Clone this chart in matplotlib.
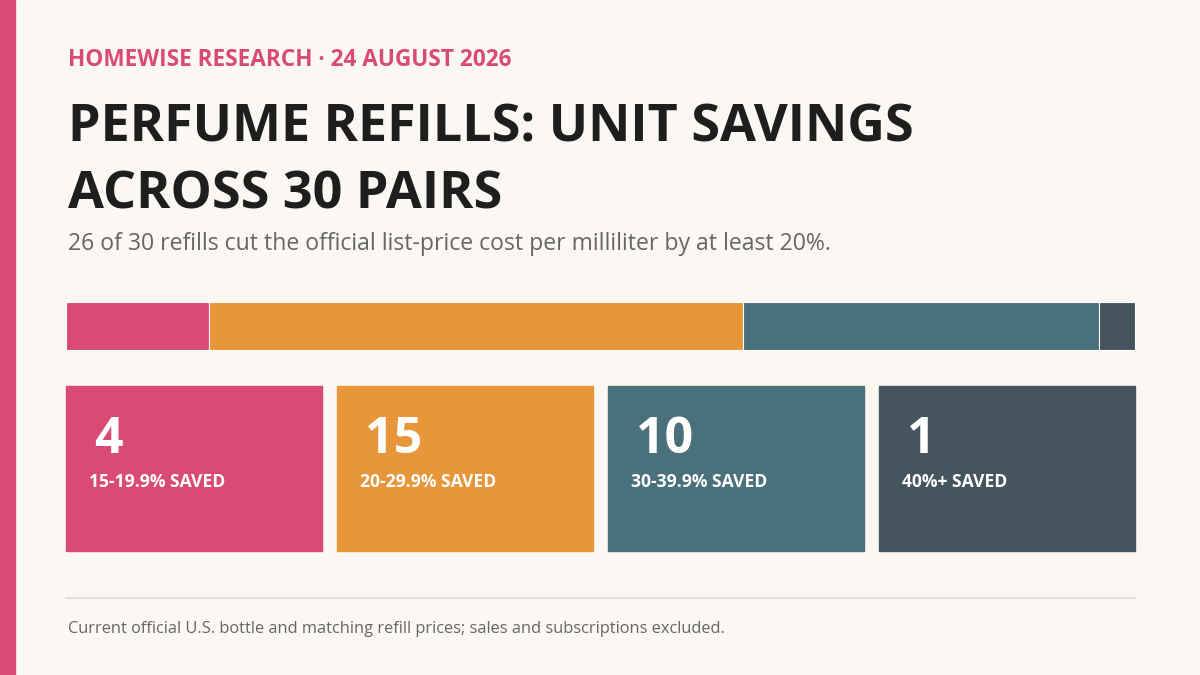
import matplotlib
matplotlib.use("Agg")
from matplotlib import pyplot as plt
from matplotlib.patches import Rectangle

# data
counts = [4, 15, 10, 1]
labels = ['15-19.9% SAVED', '20-29.9% SAVED', '30-39.9% SAVED', '40%+ SAVED']
colors = ['#D94A74', '#E8963A', '#4A707B', '#44555E']
total = sum(counts)

plt.rcParams['font.family'] = ['Open Sans', 'DejaVu Sans']

fig = plt.figure(figsize=(12, 6.75), dpi=100)
fig.patch.set_facecolor('#FBF8F3')
ax = fig.add_axes([0, 0, 1, 1])
ax.set_xlim(0, 1200)
ax.set_ylim(675, 0)
ax.axis('off')

# left accent stripe
ax.add_patch(Rectangle((0, 0), 15, 675, color='#D94A74'))

ax.text(68, 60, 'HOMEWISE RESEARCH · 24 AUGUST 2026', color='#D94A74',
        fontsize=16.3, fontweight='bold', va='center')
ax.text(68, 128, 'PERFUME REFILLS: UNIT SAVINGS', color='#1E1E1E',
        fontsize=37.5, fontweight='bold', va='center')
ax.text(68, 195, 'ACROSS 30 PAIRS', color='#1E1E1E',
        fontsize=37.5, fontweight='bold', va='center')
ax.text(68, 244, '26 of 30 refills cut the official list-price cost per milliliter by at least 20%.',
        color='#666666', fontsize=16.6, va='center')

# stacked bar
x0, x1 = 66, 1135
w = x1 - x0
left = x0
for c, col in zip(counts, colors):
    seg = w * c / total
    ax.add_patch(Rectangle((left, 302), seg, 48, facecolor=col, edgecolor='white', linewidth=0.8))
    left += seg

# cards
card_w, gap = 256, 15
for i, (c, lab, col) in enumerate(zip(counts, labels, colors)):
    cx = x0 + i * (card_w + gap)
    ax.add_patch(Rectangle((cx, 386), card_w, 165, color=col))
    ax.text(cx + 28, 440, str(c), color='white', fontsize=36, fontweight='bold', va='center')
    ax.text(cx + 23, 482, lab, color='white', fontsize=12.6, fontweight='bold', va='center')

ax.plot([66, 1135], [598, 598], color='#E2DED8', linewidth=1.5)
ax.text(68, 629, 'Current official U.S. bottle and matching refill prices; sales and subscriptions excluded.',
        color='#666666', fontsize=11.8, va='center')

fig.savefig('out.png', dpi=100, facecolor=fig.get_facecolor())
